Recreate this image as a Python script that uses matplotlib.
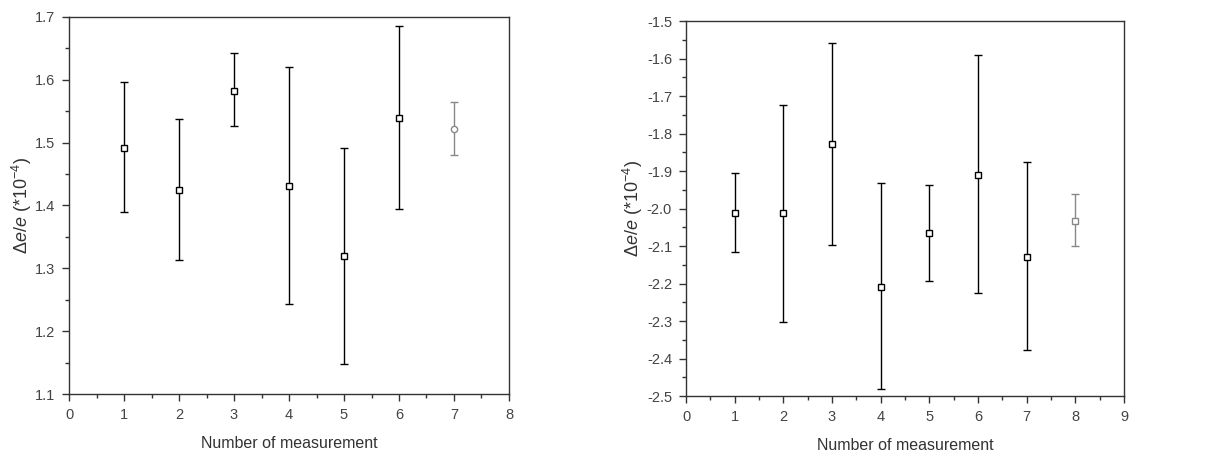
import numpy as np
import matplotlib.pyplot as plt
from matplotlib.ticker import MultipleLocator

plt.rcParams['font.family'] = ['Liberation Sans', 'DejaVu Sans']
plt.rcParams['mathtext.fontset'] = 'custom'
plt.rcParams['mathtext.rm'] = 'Liberation Sans'
plt.rcParams['mathtext.it'] = 'Liberation Sans:italic'

# left panel data
left_x = [1, 2, 3, 4, 5, 6]
left_y = [1.491, 1.425, 1.583, 1.431, 1.319, 1.539]
left_top = [1.596, 1.538, 1.642, 1.621, 1.491, 1.686]
left_bot = [1.389, 1.313, 1.527, 1.243, 1.148, 1.394]
left_mean_x = [7]
left_mean_y = [1.522]
left_mean_top = [1.564]
left_mean_bot = [1.481]

# right panel data
right_x = [1, 2, 3, 4, 5, 6, 7]
right_y = [-2.013, -2.013, -1.828, -2.208, -2.065, -1.910, -2.128]
right_top = [-1.905, -1.724, -1.559, -1.932, -1.938, -1.591, -1.876]
right_bot = [-2.117, -2.302, -2.097, -2.480, -2.193, -2.225, -2.377]
right_mean_x = [8]
right_mean_y = [-2.033]
right_mean_top = [-1.962]
right_mean_bot = [-2.101]

ylab = r'$\Delta e/e$ (*10$^{-4}$)'


def draw(ax, x, y, top, bot, mx, my, mtop, mbot, mean_marker):
    y = np.array(y)
    err = [y - np.array(bot), np.array(top) - y]
    ax.errorbar(x, y, yerr=err, fmt='s', mfc='white', mec='black', ecolor='black',
                ms=4.5, mew=1, elinewidth=1, capsize=3, capthick=1)
    my = np.array(my)
    merr = [my - np.array(mbot), np.array(mtop) - my]
    ax.errorbar(mx, my, yerr=merr, fmt=mean_marker, mfc='white', mec='#888888',
                ecolor='#888888', ms=4.5, mew=1, elinewidth=1, capsize=3, capthick=1)
    for s in ax.spines.values():
        s.set_linewidth(1)
        s.set_color('#333333')
    ax.tick_params(which='major', direction='out', length=5, width=1, labelsize=10.5,
                   labelcolor='#444444', colors='#333333', pad=5)
    ax.tick_params(which='minor', direction='out', length=3, width=1, colors='#333333')
    ax.tick_params(axis='y', labelcolor='#444444')
    ax.set_xlabel('Number of measurement', fontsize=11.5, color='#333333', labelpad=10)
    ax.set_ylabel(ylab, fontsize=13, color='#333333', labelpad=1)


fig = plt.figure(figsize=(12.2, 4.59), dpi=100)
ax1 = fig.add_axes([0.0566, 0.1416, 0.3606, 0.8214])
ax2 = fig.add_axes([0.5623, 0.137, 0.359, 0.817])

draw(ax1, left_x, left_y, left_top, left_bot, left_mean_x, left_mean_y,
     left_mean_top, left_mean_bot, 'o')
ax1.set_xlim(0, 8)
ax1.set_ylim(1.1, 1.7)
ax1.xaxis.set_major_locator(MultipleLocator(1))
ax1.xaxis.set_minor_locator(MultipleLocator(0.5))
ax1.yaxis.set_major_locator(MultipleLocator(0.1))
ax1.yaxis.set_minor_locator(MultipleLocator(0.05))
ax1.yaxis.set_major_formatter(plt.FormatStrFormatter('%.1f'))

draw(ax2, right_x, right_y, right_top, right_bot, right_mean_x, right_mean_y,
     right_mean_top, right_mean_bot, 's')
ax2.set_xlim(0, 9)
ax2.set_ylim(-2.5, -1.5)
ax2.xaxis.set_major_locator(MultipleLocator(1))
ax2.xaxis.set_minor_locator(MultipleLocator(0.5))
ax2.yaxis.set_major_locator(MultipleLocator(0.1))
ax2.yaxis.set_minor_locator(MultipleLocator(0.05))
ax2.yaxis.set_major_formatter(plt.FormatStrFormatter('%.1f'))

fig.savefig('out.png', dpi=100)
